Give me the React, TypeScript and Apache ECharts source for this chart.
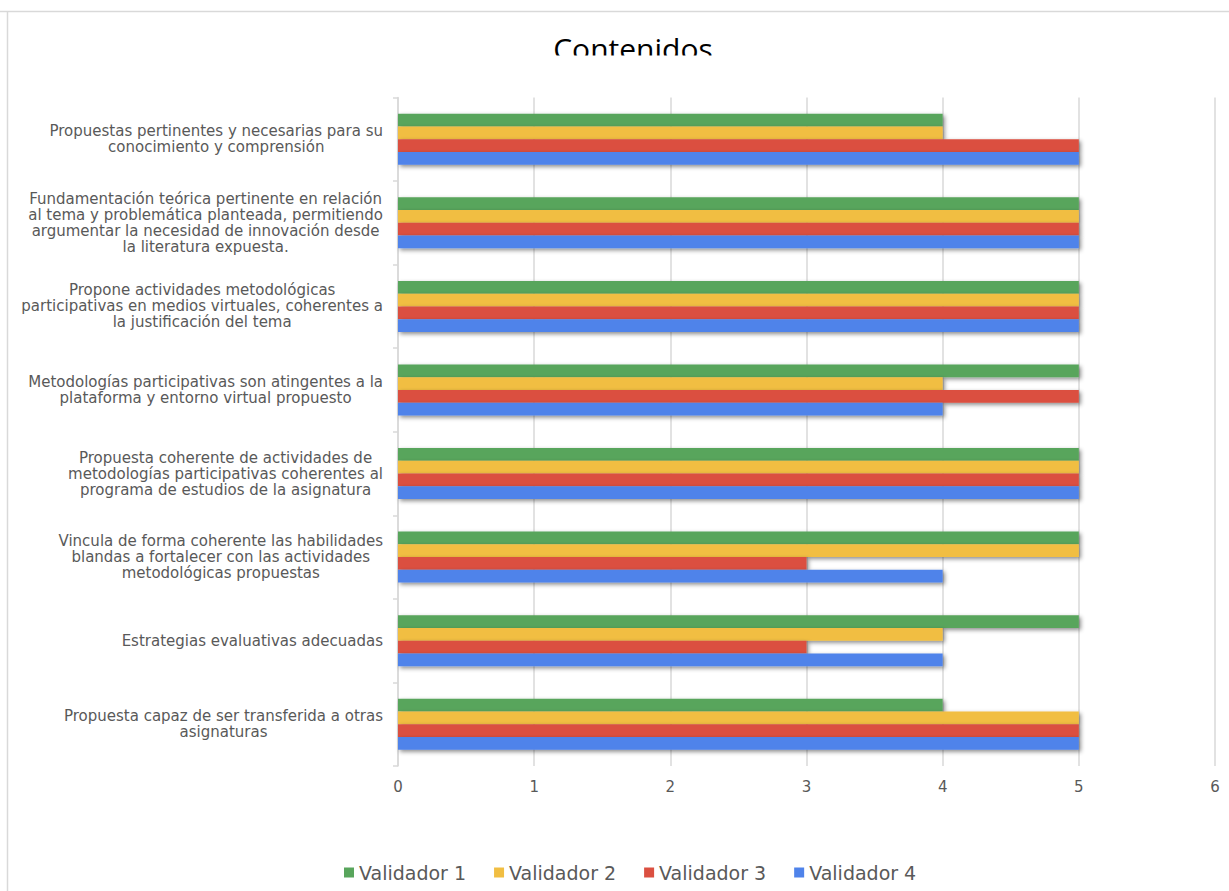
import React, { useEffect, useRef } from "react";
import * as echarts from "echarts";

const categories = [
  "Propuestas pertinentes y necesarias para su\nconocimiento y comprensión",
  "Fundamentación teórica pertinente en relación\nal tema y problemática planteada, permitiendo\nargumentar la necesidad de innovación desde\nla literatura expuesta.",
  "Propone actividades metodológicas\nparticipativas en medios virtuales, coherentes a\nla justificación del tema",
  "Metodologías participativas son atingentes a la\nplataforma y entorno virtual propuesto",
  "Propuesta coherente de actividades de\nmetodologías participativas coherentes al\nprograma de estudios de la asignatura",
  "Vincula de forma coherente las habilidades\nblandas a fortalecer con las actividades\nmetodológicas propuestas",
  "Estrategias evaluativas adecuadas",
  "Propuesta capaz de ser transferida a otras\nasignaturas",
];

const seriesNames = ["Validador 1", "Validador 2", "Validador 3", "Validador 4"];
const validador1 = [4, 5, 5, 5, 5, 5, 5, 4];
const validador2 = [4, 5, 5, 4, 5, 5, 4, 5];
const validador3 = [5, 5, 5, 5, 5, 3, 3, 5];
const validador4 = [5, 5, 5, 4, 5, 4, 4, 5];
const seriesValues = [validador1, validador2, validador3, validador4];
const colors = ["#58A55C", "#F1BE42", "#DB5041", "#4F83EA"];
const xTicks = [0, 1, 2, 3, 4, 5, 6];

const FONT = "DejaVu Sans";
const TEXT = "#595959";
const GRID = "#d9d9d9";

export default function App() {
  const ref = useRef<HTMLDivElement>(null);
  useEffect(() => {
    if (!ref.current) return;
    const chart = echarts.init(ref.current, undefined, { renderer: "svg" });
    chart.setOption({
      animation: false,
      backgroundColor: "#ffffff",
      title: {
        text: "Contenidos",
        left: 628,
        textAlign: "center",
        top: 28,
        textStyle: { fontFamily: "Open Sans", fontSize: 30, fontWeight: "normal", color: "#000000" },
      },
      graphic: [
        { type: "rect", z: 100, shape: { x: 450, y: 55.5, width: 400, height: 30 }, style: { fill: "#ffffff" } },
        { type: "line", z: 100, shape: { x1: 0, y1: 11.5, x2: 1229, y2: 11.5 }, style: { stroke: GRID, lineWidth: 1.5 } },
        { type: "line", z: 100, shape: { x1: 7.5, y1: 11.5, x2: 7.5, y2: 891 }, style: { stroke: GRID, lineWidth: 1.5 } },
      ],
      legend: {
        data: seriesNames,
        left: 339,
        top: 858,
        icon: "rect",
        itemWidth: 10,
        itemHeight: 10,
        itemGap: 28,
        textStyle: { fontFamily: FONT, fontSize: 19, color: TEXT },
      },
      grid: { left: 398, right: 14, top: 97.5, bottom: 125, containLabel: false },
      xAxis: {
        type: "value",
        min: xTicks[0],
        max: xTicks[xTicks.length - 1],
        interval: 1,
        axisLine: { show: false },
        axisTick: { show: false },
        axisLabel: { fontFamily: FONT, fontSize: 15, color: TEXT, margin: 13 },
        splitLine: { show: true, lineStyle: { color: GRID, width: 1.5 } },
      },
      yAxis: {
        type: "category",
        inverse: true,
        data: categories,
        axisLine: { show: true, lineStyle: { color: GRID, width: 1.5 } },
        axisTick: { show: true, length: 5, lineStyle: { color: GRID, width: 1.5 } },
        axisLabel: {
          align: "right",
          margin: 15,
          formatter: (v: string) => v.split("\n").map((l) => `{c|${l}}`).join("\n"),
          rich: {
            c: { align: "center", fontFamily: FONT, fontSize: 15, color: TEXT, lineHeight: 16 },
          },
        },
      },
      series: seriesNames.map((name, i) => ({
        name,
        type: "bar",
        data: seriesValues[i],
        barGap: "0%",
        barCategoryGap: "39%",
        itemStyle: {
          color: colors[i],
          shadowColor: "rgba(0,0,0,0.45)",
          shadowBlur: 4,
          shadowOffsetX: 2,
          shadowOffsetY: 2,
        },
      })),
    });
    return () => chart.dispose();
  }, []);
  return (
    <div
      ref={ref}
      style={{ position: "fixed", left: 0, top: 0, width: 1229, height: 891 }}
    />
  );
}
